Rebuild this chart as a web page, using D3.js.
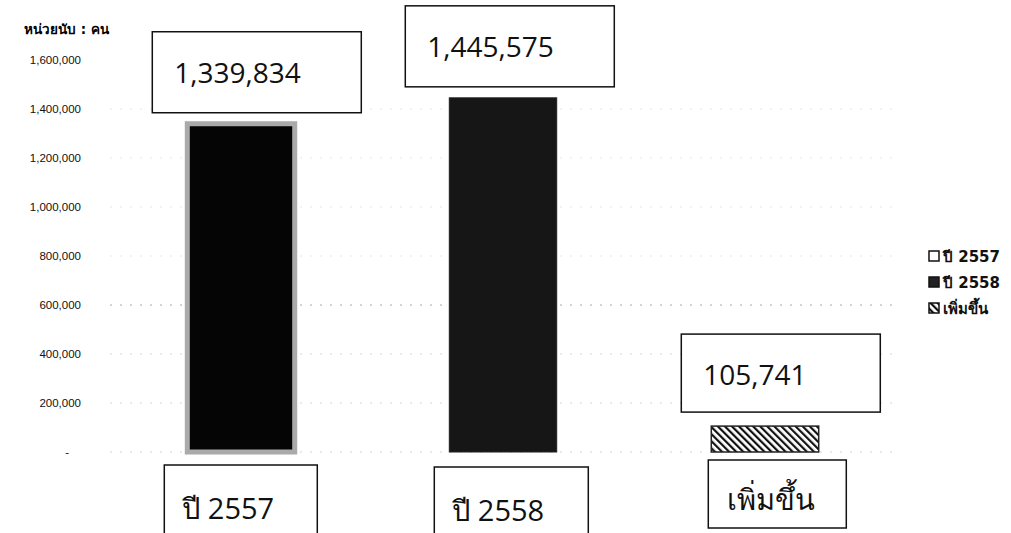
<!DOCTYPE html>
<html>
<head>
<meta charset="utf-8">
<script src="https://cdn.jsdelivr.net/npm/d3@7"></script>
<style>
  body { margin: 0; background: #fff; }
  text { font-family: "Open Sans", "Noto Sans", sans-serif; }
</style>
</head>
<body>
<div id="chart"></div>
<script>
const categories = ["ปี 2557", "ปี 2558", "เพิ่มขึ้น"];
const values = [1339834, 1445575, 105741];
const valueLabels = ["1,339,834", "1,445,575", "105,741"];
const tickValues = [0, 200000, 400000, 600000, 800000, 1000000, 1200000, 1400000, 1600000];
const legendLabels = ["ปี 2557", "ปี 2558", "เพิ่มขึ้น"];

const width = 1011, height = 533;

const svg = d3.select("#chart")
    .append("svg")
    .attr("width", width)
    .attr("height", height);

const defs = svg.append("defs");
defs.append("pattern")
    .attr("id", "hatch")
    .attr("patternUnits", "userSpaceOnUse")
    .attr("width", 5)
    .attr("height", 5)
    .attr("patternTransform", "rotate(-45)")
    .append("rect")
    .attr("width", 2.2)
    .attr("height", 5)
    .attr("fill", "#111");

const x = d3.scaleBand()
    .domain(categories)
    .range([110, 896])
    .paddingInner(0.59)
    .paddingOuter(0.295);

const y = d3.scaleLinear()
    .domain([0, 1600000])
    .range([452, 60]);

// unit label
svg.append("text")
    .attr("x", 24)
    .attr("y", 34)
    .style("font-family", "Tahoma, 'DejaVu Sans', sans-serif")
    .style("font-weight", "bold")
    .style("font-size", "13.5px")
    .text("หน่วยนับ : คน");

// faint dotted gridlines
svg.append("g")
    .selectAll("line")
    .data(tickValues.slice(0, 8))
    .join("line")
    .attr("x1", 110)
    .attr("x2", 900)
    .attr("y1", d => y(d))
    .attr("y2", d => y(d))
    .style("stroke", d => d === 600000 ? "#aaa" : (d <= 400000 ? "#d4d4d4" : "#e6e6e6"))
    .style("stroke-width", 1)
    .style("stroke-dasharray", "2,8");

// y axis, no line
const yAxis = d3.axisLeft(y)
    .tickValues(tickValues)
    .tickSize(0)
    .tickPadding(0)
    .tickFormat(d => d === 0 ? "-" : d3.format(",")(d));

const gy = svg.append("g")
    .attr("transform", "translate(81,0)")
    .call(yAxis);
gy.select(".domain").remove();
gy.selectAll("text")
    .style("font-family", "'Liberation Sans', Arial, sans-serif")
    .style("font-size", "11.5px")
    .style("fill", "#111");
gy.selectAll(".tick")
    .filter(d => d === 0)
    .select("text")
    .attr("x", -12);

// bars
const fills = ["#050505", "#161616", "url(#hatch)"];
const strokes = ["#aaa", "#222", "#222"];
const strokeW = [5, 1, 1.5];

svg.append("g")
    .selectAll("rect")
    .data(values)
    .join("rect")
    .attr("x", (d, i) => x(categories[i]))
    .attr("y", d => y(d))
    .attr("width", x.bandwidth())
    .attr("height", d => y(0) - y(d))
    .style("fill", (d, i) => fills[i])
    .style("stroke", (d, i) => strokes[i])
    .style("stroke-width", (d, i) => strokeW[i]);

// value boxes above bars
const boxW = [209, 209, 199];
const boxShift = [-35, -44, -30];
const labels = svg.append("g")
    .selectAll("g")
    .data(values)
    .join("g")
    .attr("transform", (d, i) => `translate(${x(categories[i]) + boxShift[i]}, ${y(d) - 12 - 80})`);

labels.append("rect")
    .attr("width", (d, i) => boxW[i])
    .attr("height", (d, i) => i === 2 ? 78 : 81)
    .style("fill", "#fff")
    .style("stroke", "#111")
    .style("stroke-width", 1.5);

labels.append("text")
    .attr("x", 22)
    .attr("y", 51)
    .style("font-size", "28px")
    .style("fill", "#111")
    .text((d, i) => valueLabels[i]);

// category boxes below
const catBoxW = [153, 154, 138];
const catBoxY = [465, 467, 460];
const catShift = [-23, -15, -3];
const cats = svg.append("g")
    .selectAll("g")
    .data(categories)
    .join("g")
    .attr("transform", (d, i) => `translate(${x(d) + catShift[i]}, ${catBoxY[i]})`);

cats.append("rect")
    .attr("width", (d, i) => catBoxW[i])
    .attr("height", (d, i) => i === 2 ? 68 : 90)
    .style("fill", "#fff")
    .style("stroke", "#111")
    .style("stroke-width", 1.5);

cats.append("text")
    .attr("x", (d, i) => i === 2 ? 19 : 18)
    .attr("y", (d, i) => i === 2 ? 50 : 54)
    .style("font-size", "29px")
    .style("fill", "#111")
    .text(d => d);

// legend
const legend = svg.append("g")
    .selectAll("g")
    .data(legendLabels)
    .join("g")
    .attr("transform", (d, i) => `translate(929, ${251 + i * 26})`);

legend.append("rect")
    .attr("width", 10)
    .attr("height", 10)
    .style("fill", (d, i) => ["#fff", "#222", "url(#hatch)"][i])
    .style("stroke", "#111")
    .style("stroke-width", 1.5);

legend.append("text")
    .attr("x", 14)
    .attr("y", 11)
    .style("font-family", "Tahoma, 'DejaVu Sans', sans-serif")
    .style("font-weight", "bold")
    .style("font-size", "15px")
    .style("fill", "#111")
    .text(d => d);
</script>
</body>
</html>
